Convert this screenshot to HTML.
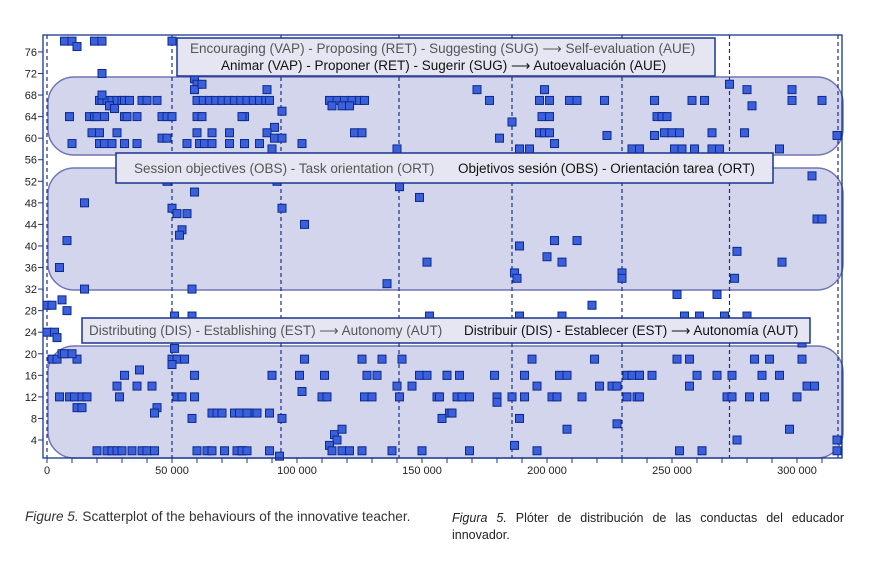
<!DOCTYPE html>
<html><head><meta charset="utf-8">
<style>
body{margin:0;background:#fff;width:878px;height:570px;overflow:hidden;font-family:"Liberation Sans",sans-serif;}
.cap{position:absolute;font-size:12.5px;color:#222;}
</style></head>
<body>
<svg id="chart" width="878" height="570" style="position:absolute;left:0;top:0" font-family="Liberation Sans, sans-serif"></svg>
<div class="cap" style="left:25px;top:509px;color:#333;font-size:13.6px"><i>Figure 5.</i> Scatterplot of the behaviours of the innovative teacher.</div>
<div class="cap" style="left:452px;top:510px;width:392px;line-height:17px;text-align:justify;text-align-last:left"><i>Figura 5.</i> Plóter de distribución de las conductas del educador innovador.</div>
<script>
// x in thousands, y = behaviour code
const xs = [7,10,19,22,50,12,22,59,60,
21,22,24,26,28,30,31,33,38,40,44,60,62.5,65,67.5,70,72.5,75,77.5,80,82.5,85,87.5,89,
22,59,62,
9,17,19,20,23,31,32,36,46,48,50,60,62,79,25,27,
18,21,28,60,66,73,46,48,
10,21,23,26,31,36,56,61,63,66,73,79,
88,78,94,91,88,91,94,79,85,102,90,140,
113,116,119,122,125,127,114,118,121,123,126,
172,177,199,197,201,209,212,223,186,198,201,197,199,201,224,181,203,189,193,234,237,
273,280,298,243,258,263,282,298,310,244,246,248,243,247,250,253,266,279,316,237,251,254,259,266,269,293,306,308,310,
5,8,15,50,52,54,53,56,59,48,92,141,149,94,103,
15,58,6,0,2,8,51,58,0,3,4,152,136,153,
189,203,212,200,206,187,188,230,230,218,189,206,
276,294,275,252,268,255,261,271,280,302,
2,4,12,50,52,55,6,7,10,50,51,31,59,37,28,36,42,
5,9,11,14,16,29,52,54,59,12,14,44,43,66,68,70,75,77,79,81,58,
20,24,26,28,30,34,38,40,43,60,64,66,71,76,78,
103,126,134,142,90,101,111,128,132,149,152,160,140,146,102,110,112,127,130,141,156,
77,80,84,89,161,94,158,115,118,116,113,78,80,89,114,118,121,126,138,150,93,
194,219,160,165,179,191,205,208,232,234,237,196,221,226,228,
157,164,166,169,180,186,191,202,204,214,232,236,180,162,158,189,208,228,187,169,196,
252,257,283,289,302,237,242,260,268,274,286,293,257,304,307,237,272,274,281,287,300,297,276,316,253,262,316];
const ys = [78,78,78,78,78,77,72,71,70,
67,67,67,67,67,67,67,67,67,67,67,67,67,67,67,67,67,67,67,67,67,67,67,67,
68,69,70,
64,64,64,64,64,64,64,64,64,64,64,64,64,64,66,65.5,
61,61,61,61,61,61,60,60,
59,59,59,59,59,59,59,59,59,59,59,59,
69,64,65,62,61,60,60,59,59,59,58,58,
67,67,67,67,67,67,66,66,66,61,61,
69,67,69,67,67,67,67,67,63,64,64,61,61,61,60.5,60,59,58,58,58,58,
70,69,69,67,67,67,66,67,67,64,64,64,60.5,61,61,61,61,61,60.5,58,58,58,58,58,58,58,53,45,45,
36,41,48,47,46,43,42,46,50,52,52,51,49,47,44,
32,32,30,29,29,28,27,27,24,24,23,37,33,27,
40,41,41,38,37,35,34,35,34,29,27,27,
39,37,34,31,31,27,27,27,27,22,
19,19,19,19,19,19,20,20,20,18,21,16,16,17,14,14,14,
12,12,12,12,12,12,12,12,12,10,10,10,9,9,9,9,9,9,9,9,8,
2,2,2,2,2,2,2,2,2,2,2,2,2,2,2,
19,19,19,19,16,16,16,16,16,16,16,16,14,14,13,12,12,12,12,12,12,
9,9,9,9,9,8,8,5,6,4,3,2,2,2,2,2,2,2,2,2,1,
19,19,16,16,16,16,16,16,16,16,16,14,14,14,14,
12,12,12,12,12,12,12,12,12,12,12,12,11,9,8,8,6,7,3,2,2,
19,19,19,19,19,16,16,16,16,16,16,16,14,14,14,12,12,12,12,12,12,6,4,4,2,2,2];
const xTickVals = [0,50000,100000,150000,200000,250000,300000];
const xTickLabels = ["0","50 000","100 000","150 000","200 000","250 000","300 000"];
const yTickVals = [4,8,12,16,20,24,28,32,36,40,44,48,52,56,60,64,68,72,76];
const phaseLines = [0,50,93.6,140.8,186,230,273,316.4];

const L=43,R=842,T=35,B=458;
const X = k => 47 + k*2.5;          // k in thousands
const Y = v => 440 - (v-4)*5.39;
const svg = document.getElementById('chart');
const NS='http://www.w3.org/2000/svg';
function mk(tag, attrs, parent){const e=document.createElementNS(NS,tag);for(const a in attrs)e.setAttribute(a,attrs[a]);(parent||svg).appendChild(e);return e;}

// bands
const bands=[[48,77,795,78],[48,168,795,122],[48,346,795,112]];
const bandNames=['band-encouraging','band-session-objectives','band-distributing'];
bands.forEach((b,i)=>{const r=mk('rect',{x:b[0],y:b[1],width:b[2],height:b[3],rx:26,ry:26,fill:'#d3d5ec',stroke:'#7176b4','stroke-width':1.5});

});

// phase lines
phaseLines.forEach(k=>{const l=mk('line',{x1:X(k),x2:X(k),y1:T,y2:B,stroke:'#1a2f8c','stroke-width':1.2,'stroke-dasharray':'4,3'});

});

// points
for(let i=0;i<xs.length;i++){
  const r=mk('rect',{x:X(xs[i])-4,y:Y(ys[i])-4,width:8,height:8,fill:'#3c60dc',stroke:'#0b2a8e','stroke-width':1});
  
  
}

// labels
function label(x,y,w,h,lines,name){
  const g=mk('g',{});
  
  
  mk('rect',{x,y,width:w,height:h,fill:'#e6e6f3',stroke:'#1a3590','stroke-width':1.5},g);
  lines.forEach(l=>{const t=mk('text',{x:l[0],y:l[1],'font-size':13.5,fill:l[3]},g);t.textContent=l[2];});
}
label(177,38,538,38,[[190,53,'Encouraging (VAP) - Proposing (RET) - Suggesting  (SUG) ⟶ Self-evaluation (AUE)','#555'],[221,70,'Animar (VAP) - Proponer (RET) - Sugerir (SUG) ⟶ Autoevaluación (AUE)','#111']],'label-encouraging');
label(116,153,657,30,[[134,173,'Session objectives (OBS) - Task orientation (ORT)','#555'],[458,173,'Objetivos sesión (OBS) - Orientación tarea (ORT)','#111']],'label-session-objectives');
label(82,318,728,25,[[89,335,'Distributing (DIS) - Establishing (EST) ⟶ Autonomy (AUT)','#555'],[464,335,'Distribuir (DIS) - Establecer (EST) ⟶ Autonomía (AUT)','#111']],'label-distributing');

// frame
const fr=mk('rect',{x:L,y:T,width:R-L,height:B-T,fill:'none',stroke:'#1a3590','stroke-width':1.3});



// y ticks
yTickVals.forEach(v=>{mk('line',{x1:L-5,x2:L,y1:Y(v),y2:Y(v),stroke:'#1a3590'});
 const t=mk('text',{x:L-6,y:Y(v)+4,'font-size':11,'text-anchor':'end',fill:'#222'});t.textContent=v;
 
 });
// x ticks
for(let k=0;k<=310;k+=10){mk('line',{x1:X(k),x2:X(k),y1:B,y2:B+5,stroke:'#1a3590'});}
xTickVals.forEach((v,i)=>{const t=mk('text',{x:X(v/1000),y:B+16,'font-size':11,'text-anchor':'middle',fill:'#222'});t.textContent=xTickLabels[i];
 
 });
</script>
</body></html>
